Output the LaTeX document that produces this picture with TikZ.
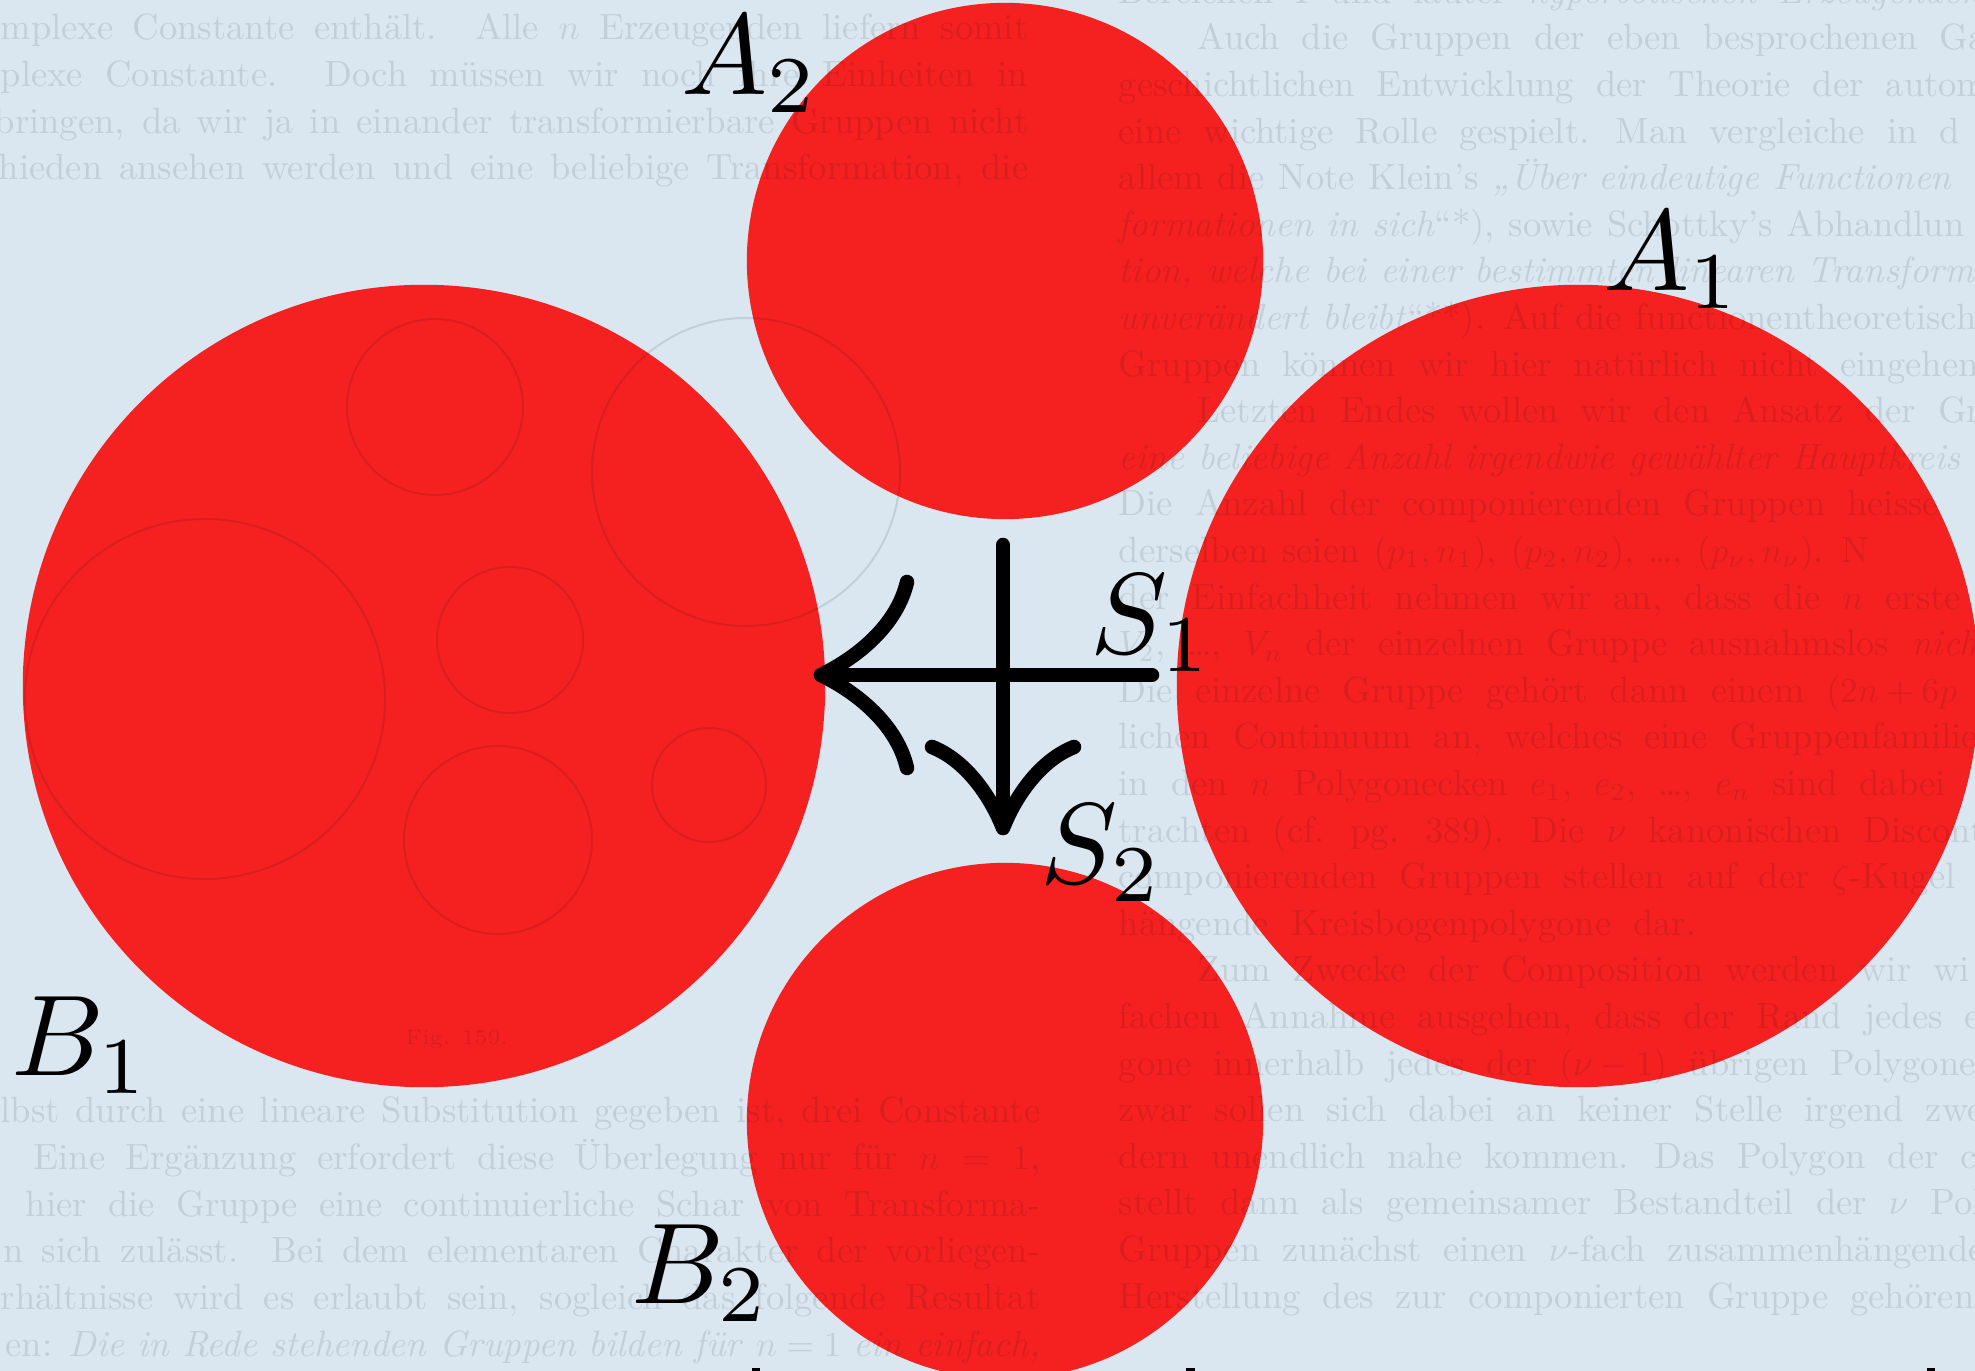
\documentclass[tikz,border=0pt]{standalone}
\usepackage{pdfrender}
\definecolor{paper}{RGB}{218,231,241}
\definecolor{disc}{RGB}{245,33,33}
\newcommand{\biglab}[1]{\scalebox{3.27}{\textpdfrender{TextRenderingMode=FillStroke,LineWidth=0.35pt,LineJoin=1}{$#1$}}}
\newcommand{\jl}[2]{\makebox[#1][s]{#2}}
\newcommand{\widesp}{\spaceskip=0.6em plus 0.1em minus 0.1em\relax}
\newcommand{\narsp}{\spaceskip=0.38em plus 0.1em minus 0.1em\relax}
\begin{document}
\begin{tikzpicture}[x=0.01cm,y=-0.01cm,
  discnode/.style={circle,fill=disc,draw=none,inner sep=0pt},
  lab/.style={inner sep=0pt,anchor=base west},
  scanl/.style={inner sep=0pt,anchor=base west,text=black,text opacity=0.1,
    font=\fontsize{10.4}{12}\selectfont},
  scan/.style={scanl,execute at begin node=\widesp},
  scani/.style={scanl,execute at begin node=\narsp},
  faint/.style={draw=black,draw opacity=0.1,line width=0.02cm},
  shaft/.style={line width=0.145cm,line cap=round,line join=round},
  barb/.style={line width=0.145cm,line cap=round,line join=round}]
\fill[paper] (0,0) rectangle (1975,1371);
\useasboundingbox (0,0) rectangle (1975,1371);
% discs
\node[discnode,minimum size=8.02cm] (B1) at (424,686) {};
\node[discnode,minimum size=8.02cm] (A1) at (1578,686) {};
\node[discnode,minimum size=5.16cm] (A2) at (1005,261) {};
\node[discnode,minimum size=5.16cm] (B2) at (1005,1121) {};
% faint figure of the scanned page
\draw[faint] (205,699) circle (180);
\draw[faint] (435,407) circle (88);
\draw[faint] (510,640) circle (73);
\draw[faint] (498,840) circle (94);
\draw[faint] (709,785) circle (57);
\draw[faint] (746,472) circle (154);
\node[scanl,font=\fontsize{6}{7}\selectfont] (fig) at (405,1045) {Fig. 159.};
% scanned page text, left column
\node[scanl] (l1) at (0,40) {\jl{10.27cm}{mplexe Constante enthält. Alle $n$ Erzeugenden liefern somit}};
\node[scanl] (l2) at (0,86.6) {\jl{10.27cm}{plexe Constante. Doch müssen wir noch ihre Einheiten in}};
\node[scanl] (l3) at (-6,133.2) {\jl{10.33cm}{bringen, da wir ja in einander transformierbare Gruppen nicht}};
\node[scanl] (l4) at (-2,179.8) {\jl{10.29cm}{hieden ansehen werden und eine beliebige Transformation, die}};
\node[scanl] (l5) at (0,1123) {\jl{10.39cm}{lbst durch eine lineare Substitution gegeben ist, drei Constante}};
\node[scanl] (l6) at (33,1170) {\jl{10.06cm}{Eine Ergänzung erfordert diese Überlegung nur für $n=1$,}};
\node[scanl] (l7) at (25,1217) {\jl{10.14cm}{hier die Gruppe eine continuierliche Schar von Transforma-}};
\node[scanl] (l8) at (3,1263) {\jl{10.36cm}{n sich zulässt. Bei dem elementaren Charakter der vorliegen-}};
\node[scanl] (l9) at (0,1310) {\jl{10.39cm}{rhältnisse wird es erlaubt sein, sogleich das folgende Resultat}};
\node[scanl] (l10) at (5,1357) {\jl{10.34cm}{en: \textit{Die in Rede stehenden Gruppen bilden für} $n=1$ \textit{ein einfach,}}};
% scanned page text, right column
\node[scan] (r0) at (1118,4) {Bereichen I und lauter \textit{hyperbolischen Erzeugenden}};
\node[scan] (r1) at (1197,50) {Auch die Gruppen der eben besprochenen Gatt};
\node[scan] (r2) at (1118,96.6) {geschichtlichen Entwicklung der Theorie der autom};
\node[scan] (r3) at (1118,143.2) {eine wichtige Rolle gespielt. Man vergleiche in d};
\node[scani] (r4) at (1118,189.8) {allem die Note Klein's \textit{„Über eindeutige Functionen}};
\node[scani] (r5) at (1118,236.4) {\textit{formationen in sich}“*), sowie Schottky's Abhandlun};
\node[scani] (r6) at (1118,283) {\textit{tion, welche bei einer bestimmten linearen Transformatio}};
\node[scani] (r7) at (1118,329.6) {\textit{unverändert bleibt}“**). Auf die functionentheoretische};
\node[scan] (r8) at (1118,376.2) {Gruppen können wir hier natürlich nicht eingehen.};
\node[scan] (r9) at (1197,422.8) {Letzten Endes wollen wir den Ansatz der Grupp};
\node[scani] (r10) at (1118,469.4) {\textit{eine beliebige Anzahl irgendwie gewählter Hauptkreis}};
\node[scan] (r11) at (1118,516) {Die Anzahl der componierenden Gruppen heisse};
\node[scani] (r12) at (1118,562.6) {derselben seien $(p_1, n_1)$, $(p_2, n_2)$, \dots, $(p_\nu, n_\nu)$. N};
\node[scan] (r13) at (1118,609.2) {der Einfachheit nehmen wir an, dass die $n$ erste};
\node[scan] (r14) at (1118,655.8) {$V_2$, \dots, $V_n$ der einzelnen Gruppe ausnahmslos \textit{nich}};
\node[scan] (r15) at (1118,702.4) {Die einzelne Gruppe gehört dann einem $(2n+6p$};
\node[scan] (r16) at (1118,749) {lichen Continuum an, welches eine Gruppenfamilie da};
\node[scan] (r17) at (1118,795.6) {in den $n$ Polygonecken $e_1$, $e_2$, \dots, $e_n$ sind dabei};
\node[scan] (r18) at (1118,842.2) {trachten (cf. pg. 389). Die $\nu$ kanonischen Disconti};
\node[scan] (r19) at (1118,888.8) {componierenden Gruppen stellen auf der $\zeta$-Kugel e};
\node[scan] (r20) at (1118,935.4) {hängende Kreisbogenpolygone dar.};
\node[scan] (r21) at (1197,982) {Zum Zwecke der Composition werden wir wi};
\node[scan] (r22) at (1118,1028.6) {fachen Annahme ausgehen, dass der Rand jedes ein};
\node[scan] (r23) at (1118,1075.2) {gone innerhalb jedes der $(\nu-1)$ übrigen Polygone};
\node[scan] (r24) at (1118,1121.8) {zwar sollen sich dabei an keiner Stelle irgend zwei};
\node[scan] (r25) at (1118,1168.4) {dern unendlich nahe kommen. Das Polygon der co};
\node[scan] (r26) at (1118,1215) {stellt dann als gemeinsamer Bestandteil der $\nu$ Poly};
\node[scan] (r27) at (1118,1261.6) {Gruppen zunächst einen $\nu$-fach zusammenhängender};
\node[scan] (r28) at (1118,1308.2) {Herstellung des zur componierten Gruppe gehörende};
% labels
\node[lab] (lA2) at (681,95) {\biglab{A_2}};
\node[lab] (lA1) at (1603,291) {\biglab{A_1}};
\node[lab] (lB1) at (11,1076) {\biglab{B_1}};
\node[lab] (lB2) at (631,1304) {\biglab{B_2}};
\node[lab] (lS1) at (1090,654) {\biglab{S_1}};
\node[lab] (lS2) at (1040,884) {\biglab{S_2}};
% tiny marks cut by the lower edge
\fill (752,1368) rectangle (760,1371);
\fill (1186,1368) rectangle (1195,1371);
\fill (1927,1368) rectangle (1935,1371);
% arrows
\coordinate (h1) at (1152,675);
\coordinate (h0) at (821,675);
\coordinate (v1) at (1003,545);
\coordinate (v0) at (1003,828);
\draw[shaft] (h1) -- (h0);
\draw[shaft] (v1) -- (v0);
\draw[barb] (907,582) .. controls (897,625) and (858,657) .. (h0)
  .. controls (858,693) and (897,725) .. (907,768);
\draw[barb] (932,747) .. controls (965,760) and (990,795) .. (v0)
  .. controls (1016,795) and (1041,760) .. (1074,747);
\end{tikzpicture}
\end{document}
